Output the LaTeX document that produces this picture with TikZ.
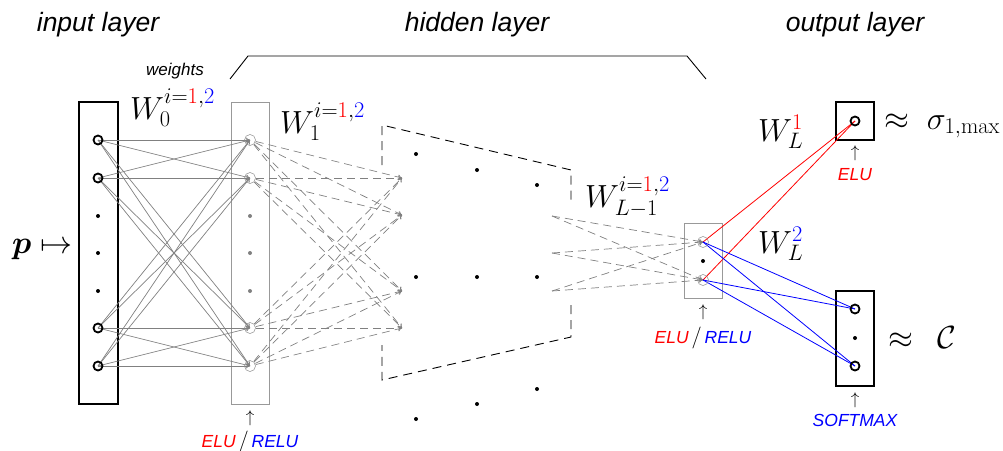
\RequirePackage{fix-cm}
\documentclass[tikz,border=0pt]{standalone}
\usepackage{amsmath}
\usepackage{fontspec}
\setsansfont{Liberation Sans}
\usetikzlibrary{arrows.meta}

\tikzset{
  layerlabel/.style={font=\sffamily\itshape\fontsize{26.5}{30}\selectfont, anchor=base, inner sep=0},
  smalllabel/.style={font=\sffamily\itshape\fontsize{17}{20}\selectfont, anchor=base, inner sep=0},
  actlabel/.style={font=\sffamily\itshape\fontsize{17.5}{20}\selectfont, anchor=base, inner sep=0},
  mathlabel/.style={font=\fontsize{32}{38}\selectfont, anchor=base west, inner sep=0},
  uparrow/.style={font=\fontsize{17}{19}\selectfont, inner sep=0},
  thickbox/.style={rectangle, draw=black, line width=2.2pt, inner sep=0},
  thinbox/.style={rectangle, draw=gray!80, line width=0.8pt, inner sep=0},
  bignode/.style={circle, draw=black, line width=1.8pt, minimum size=9pt, inner sep=0},
  smallnode/.style={circle, draw=gray!90, line width=0.5pt, minimum size=11pt, inner sep=0},
  dotnode/.style={circle, fill=black, minimum size=4pt, inner sep=0},
  graydot/.style={dotnode, fill=gray},
  wtip/.style={-{To[length=4pt,width=5pt]}},
  weightline/.style={draw=gray, line width=0.7pt, wtip},
  weightdash/.style={weightline, dash pattern=on 8pt off 5pt},
  trapline/.style={draw=black, line width=0.9pt, dash pattern=on 9pt off 6pt},
  redline/.style={draw=red, line width=0.8pt},
  blueline/.style={draw=blue, line width=0.8pt},
  bracketline/.style={draw=black, line width=0.9pt},
}
\newcommand{\actslash}{\,{\upshape\fontsize{22}{24}\selectfont\color{black}$/$}\,}

\begin{document}
\begin{tikzpicture}[x=1pt,y=-1pt]
\useasboundingbox (0,0) rectangle (1003,450);

% layer titles
\node[layerlabel] (tin)  at (98,31)  {input layer};
\node[layerlabel] (thid) at (477,31) {hidden layer};
\node[layerlabel] (tout) at (855,31) {output layer};
\node[smalllabel] (tw)   at (175,75) {weights};

% bracket over the hidden part
\draw[bracketline] (230,79) -- (248,56) -- (687,56) -- (706,79);

% layer boxes
\node[thickbox, minimum width=39pt, minimum height=302pt] (inbox) at (98.5,253) {};
\node[thinbox,  minimum width=38pt, minimum height=302pt] (h1box) at (250,253) {};
\node[thinbox,  minimum width=38pt, minimum height=75pt]  (hlbox) at (703,260.5) {};
\node[thickbox, minimum width=38pt, minimum height=38pt]  (o1box) at (855,121) {};
\node[thickbox, minimum width=38pt, minimum height=95pt]  (o2box) at (855,338.5) {};

% neuron positions
\coordinate (in1) at (98,140);  \coordinate (in2) at (98,178);
\coordinate (in3) at (98,328);  \coordinate (in4) at (98,366);
\coordinate (h1) at (250,140);  \coordinate (h2) at (250,178);
\coordinate (h3) at (250,328);  \coordinate (h4) at (250,366);
\coordinate (t1) at (402,178);  \coordinate (t2) at (402,215);
\coordinate (t3) at (402,291);  \coordinate (t4) at (402,328);
\coordinate (s1) at (552,216);  \coordinate (s2) at (552,253);
\coordinate (s3) at (552,291);
\coordinate (hl1) at (703,242); \coordinate (hl2) at (703,280);
\coordinate (o1) at (855,121);
\coordinate (o2) at (855,309);  \coordinate (o3) at (855,366);

% weights W_0
\foreach \a in {1,...,4}
  \foreach \b in {1,...,4}
    \draw[weightline] (in\a) -- (h\b);

% weights W_1 (dashed)
\foreach \a in {1,...,4}
  \foreach \b in {1,...,4}
    \draw[weightdash, shorten <=6pt] (h\a) -- (t\b);

% weights W_{L-1} (dashed)
\foreach \a in {1,2,3}
  \foreach \b in {1,2}
    \draw[weightdash] (s\a) -- (hl\b);

% output weights
\draw[redline] (hl1) -- (o1);
\draw[redline] (hl2) -- (o1);
\foreach \a in {1,2}
  \foreach \b in {2,3}
    \draw[blueline] (hl\a) -- (o\b);

% trapezoid of the inner hidden layers
\draw[trapline] (382,165) -- (382,125) -- (571,170) -- (571,202);
\draw[trapline] (571,305) -- (571,337) -- (382,380) -- (382,345);

% neurons
\foreach \i in {1,...,4} {
  \node[bignode]   (nin\i) at (in\i) {};
  \node[smallnode] (nh\i)  at (h\i)  {};
}
\node[smallnode] (nhl1) at (hl1) {};
\node[smallnode] (nhl2) at (hl2) {};
\node[bignode] (no1) at (o1) {};
\node[bignode] (no2) at (o2) {};
\node[bignode] (no3) at (o3) {};

% ellipsis dots
\node[dotnode] (din1) at (98,216) {};
\node[dotnode] (din2) at (98,253) {};
\node[dotnode] (din3) at (98,291) {};
\node[graydot] (dh1) at (250,216) {};
\node[graydot] (dh2) at (250,253) {};
\node[graydot] (dh3) at (250,291) {};
\node[dotnode] (dm1) at (416,154) {};
\node[dotnode] (dm2) at (477,170) {};
\node[dotnode] (dm3) at (537,185) {};
\node[dotnode] (dm4) at (416,277) {};
\node[dotnode] (dm5) at (477,277) {};
\node[dotnode] (dm6) at (537,277) {};
\node[dotnode] (dm7) at (416,419) {};
\node[dotnode] (dm8) at (477,404) {};
\node[dotnode] (dm9) at (537,389) {};
\node[dotnode] (dhl) at (703,261) {};
\node[dotnode] (do2) at (855,338) {};

% weight labels
\node[mathlabel] (w0)  at (130,119) {$W_0^{i={\color{red}1},{\color{blue}2}}$};
\node[mathlabel] (w1)  at (280,133) {$W_1^{i={\color{red}1},{\color{blue}2}}$};
\node[mathlabel] (wl1) at (585,207) {$W_{L-1}^{i={\color{red}1},{\color{blue}2}}$};
\node[mathlabel] (wla) at (758,141) {$W_L^{{\color{red}1}}$};
\node[mathlabel] (wlb) at (758,253) {$W_L^{{\color{blue}2}}$};

% input and outputs
\node[mathlabel] (pin)  at (12,253)  {$\boldsymbol{p}\mapsto$};
\node[mathlabel] (sig)  at (884,129) {$\approx\;\sigma_{1,\max}$};
\node[mathlabel] (cls)  at (888,348) {$\approx\enspace\mathcal{C}$};

% activation labels
\node[uparrow] (ua1) at (250,418) {$\uparrow$};
\node[actlabel] (act1) at (250,447) {{\color{red}ELU}\actslash{\color{blue}RELU}};
\node[uparrow] (ua2) at (703,312) {$\uparrow$};
\node[actlabel] (act2) at (703,343) {{\color{red}ELU}\actslash{\color{blue}RELU}};
\node[uparrow] (ua3) at (855,153) {$\uparrow$};
\node[actlabel] (act3) at (855,180) {\color{red}ELU};
\node[uparrow] (ua4) at (855,400) {$\uparrow$};
\node[actlabel] (act4) at (855,426) {\color{blue}SOFTMAX};
\end{tikzpicture}
\end{document}
